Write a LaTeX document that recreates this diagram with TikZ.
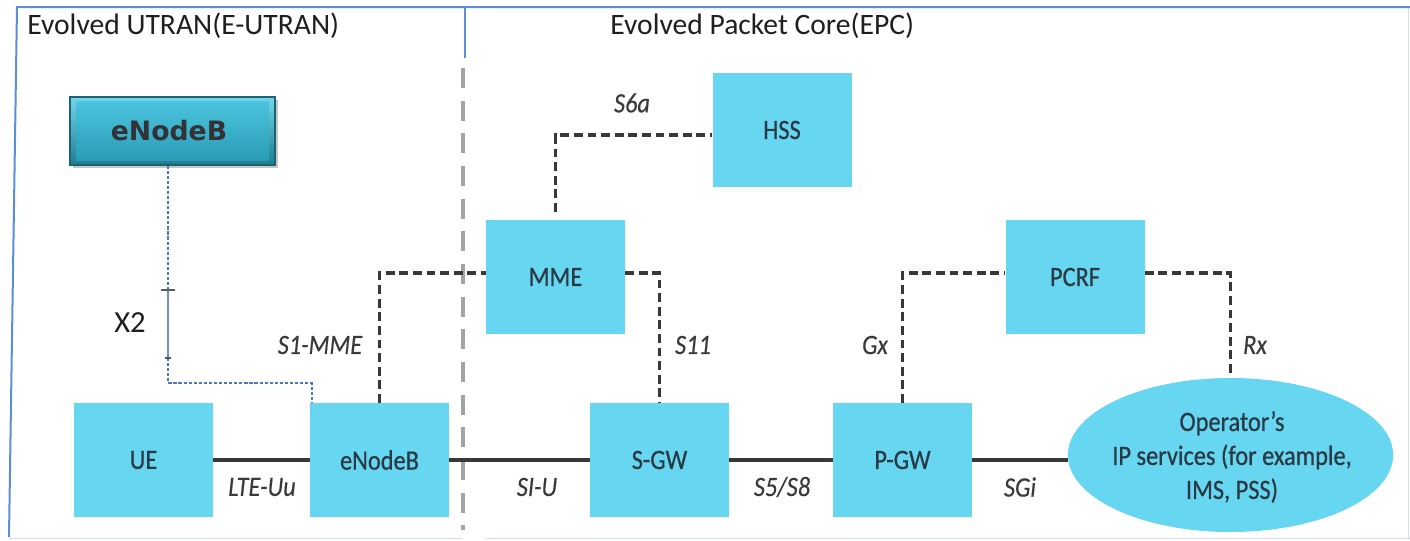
\documentclass[tikz,border=0pt]{standalone}
\usepackage{fontspec}
\setmainfont{Carlito}
\newfontfamily\lblfont[FakeStretch=0.87,FakeBold=0.4]{Carlito}
\newfontfamily\boxfont[FakeStretch=0.87,FakeBold=0.6]{Carlito}
\newfontfamily\heavyfont{DejaVu Sans}
\usetikzlibrary{shapes.geometric,shadows}

\definecolor{boxcyan}{HTML}{67D6F0}
\definecolor{frameblue}{HTML}{5B8ED6}
\definecolor{framefaint}{HTML}{D4DEEA}
\definecolor{linkgray}{HTML}{383838}
\definecolor{sepgray}{HTML}{A3A3A3}
\definecolor{xtwoblue}{HTML}{4A78C8}
\definecolor{xtwosolid}{HTML}{6F8FC6}
\definecolor{labelgray}{HTML}{3A3A3A}
\definecolor{textdark}{HTML}{2A3A44}
\definecolor{bevtop}{HTML}{74D6EA}
\definecolor{bevbot}{HTML}{1F7C90}
\definecolor{facetop}{HTML}{4CC3DE}
\definecolor{facebot}{HTML}{2A9DB7}

\tikzset{
  entity/.style={rectangle, fill=boxcyan, minimum width=104.25pt,
    minimum height=85.5pt, inner sep=0pt, text=textdark,
    font=\boxfont\fontsize{21}{25}\selectfont},
  service/.style={ellipse, fill=boxcyan, minimum width=244pt,
    minimum height=115.5pt, inner sep=0pt},
  servicetext/.style={inner sep=0pt, text=textdark, align=center,
    font=\boxfont\fontsize{21}{25.5}\selectfont},
  link/.style={draw=linkgray, line width=3.1pt},
  iface/.style={draw=linkgray, line width=2.9pt, dash pattern=on 6.6pt off 3.6pt},
  lbl/.style={font=\lblfont\itshape\fontsize{21}{25}\selectfont, text=labelgray, inner sep=0pt},
  title/.style={font=\fontsize{22.2}{26}\selectfont, text=black!88, anchor=base west, inner sep=0pt},
  xtwodash/.style={draw=xtwoblue, line width=1.2pt, dash pattern=on 2.4pt off 1.4pt},
  xtwoline/.style={draw=xtwosolid, line width=1.6pt},
  xtwotick/.style={draw=black!65, line width=1.6pt},
  sepline/.style={draw=sepgray, line width=2.3pt, dash pattern=on 15pt off 9.5pt},
}

\begin{document}
\begin{tikzpicture}[x=0.75pt, y=-0.75pt]
\useasboundingbox (0,0) rectangle (1410,540);

% frame of the two domains
\coordinate (ftl) at (17,7);
\coordinate (ftr) at (1410,7);
\coordinate (fbl) at (9,537);
\coordinate (fmid) at (465,7);
\coordinate (fmidb) at (465,58);
\draw[framefaint, line width=1.2pt] (9,538.5) -- (462,538.5) (486,538.5) -- (1410,538.5);
\draw[framefaint, line width=1.2pt] (1408.5,7) -- (1408.5,538.5);
\draw[frameblue, line width=1.5pt] (fbl) -- (ftl) -- (ftr);
\draw[frameblue, line width=1.5pt] (fmid) -- (fmidb);

% boundary between E-UTRAN and EPC
\coordinate (septop) at (463,68);
\coordinate (sepbot) at (463,530);
\draw[sepline] (septop) -- (sepbot);

% domain titles
\node[title] (tutran) at (27,34) {Evolved UTRAN(E-UTRAN)};
\node[title] (tepc) at (610,34) {Evolved Packet Core(EPC)};

% bevelled eNodeB (X2 peer)
\node[rectangle, minimum width=153.75pt, minimum height=51pt, inner sep=0pt,
      top color=bevtop, bottom color=bevbot, draw=bevbot!80!black, line width=0.8pt,
      drop shadow={shadow xshift=2pt, shadow yshift=-2.5pt, opacity=0.45}]
      (enbtop) at (172.5,131) {};
\shade[top color=facetop, bottom color=facebot]
      ([shift={(5pt,-4pt)}]enbtop.north west) rectangle ([shift={(-5pt,4pt)}]enbtop.south east);
\node[font=\heavyfont\bfseries\fontsize{20}{24}\selectfont, text=black!90!cyan, inner sep=0pt]
      (enbtoplabel) at (169,131) {eNodeB};

% network elements
\node[entity] (ue)   at (143.5,460) {UE};
\node[entity] (enb)  at (379.5,460) {eNodeB};
\node[entity] (sgw)  at (659.5,460) {S-GW};
\node[entity] (pgw)  at (902.5,460) {P-GW};
\node[entity] (mme)  at (555.5,277) {MME};
\node[entity] (hss)  at (782,130) {HSS};
\node[entity] (pcrf) at (1075,277) {PCRF};
\node[service] (ims) at (1230.5,455) {};
\node[servicetext] (imslabel) at (1232,457) {Operator’s\\IP services (for example,\\IMS, PSS)};

% user-plane interfaces
\draw[link] (ue.east) -- (enb.west);
\draw[link] (enb.east) -- (sgw.west);
\draw[link] (sgw.east) -- (pgw.west);
\draw[link] (pgw.east) -- (pgw.east -| ims.west);

% control-plane interfaces
\draw[iface] ([yshift=6pt]mme.north) |- ([yshift=-3.75pt]hss.west);
\draw[iface] (enb.north) |- ([yshift=3pt]mme.west);
\draw[iface] ([yshift=3pt]mme.east) -| (sgw.north);
\draw[iface] (pgw.north) |- ([yshift=3pt]pcrf.west);
\draw[iface] ([yshift=3pt]pcrf.east) -| ([yshift=3.5pt]ims.north);

% X2 between the two eNodeBs
\coordinate (xtwotop) at (168,290);
\coordinate (xtwobot) at (168,358);
\draw[xtwodash] (enbtop.south -| xtwotop) -- (xtwotop);
\draw[xtwoline] (xtwotop) -- (xtwobot);
\draw[xtwodash] (xtwobot) -- ++(0,25) -| ([xshift=1.5pt]enb.north west);
\draw[xtwotick] ([xshift=-5pt]xtwotop) -- ([xshift=5pt]xtwotop);
\draw[xtwotick] ([xshift=-2.5pt]xtwobot) -- ([xshift=2.5pt]xtwobot);
\node[font=\fontsize{23}{27}\selectfont, text=black!88, inner sep=0pt] (xtwolabel) at (130,323) {X2};

% interface names
\node[lbl] (ls6a)   at (632,103) {S6a};
\node[lbl] (ls1mme) at (320,345) {S1-MME};
\node[lbl] (ls11)   at (693,345) {S11};
\node[lbl] (lgx)    at (875,345) {Gx};
\node[lbl] (lrx)    at (1255,345) {Rx};
\node[lbl] (llte)   at (262,487) {LTE-Uu};
\node[lbl] (lsiu)   at (537,487) {SI-U};
\node[lbl] (ls5)    at (782,487) {S5/S8};
\node[lbl] (lsgi)   at (1020,487) {SGi};
\end{tikzpicture}
\end{document}
